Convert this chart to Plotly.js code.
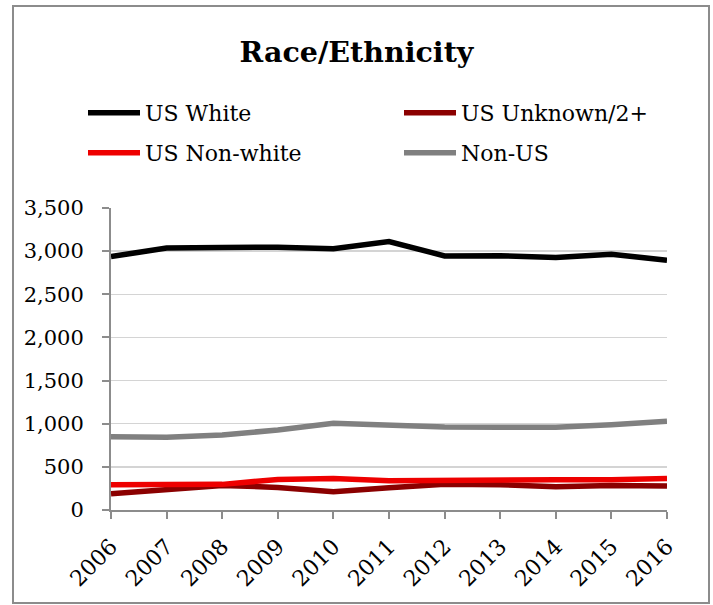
<!DOCTYPE html>
<html>
<head>
<meta charset="utf-8">
<script src="https://cdn.plot.ly/plotly-3.0.1.min.js"></script>
<style>html,body{margin:0;padding:0;background:#fff;}#chart{width:713px;height:605px;}</style>
</head>
<body>
<div id="chart"></div>
<script>
var years = [2006, 2007, 2008, 2009, 2010, 2011, 2012, 2013, 2014, 2015, 2016];
var usWhite = [2937, 3035, 3042, 3046, 3027, 3112, 2945, 2948, 2926, 2965, 2895];
var usUnknown = [188, 231, 285, 262, 211, 258, 297, 293, 270, 285, 277];
var usNonWhite = [292, 300, 297, 354, 366, 338, 346, 350, 352, 352, 366];
var nonUS = [850, 843, 870, 927, 1004, 977, 962, 960, 960, 988, 1030];
var seriesNames = ['US White', 'US Unknown/2+', 'US Non-white', 'Non-US'];
var yTicks = [0, 500, 1000, 1500, 2000, 2500, 3000, 3500];

var FONT = 'DejaVu Serif, Liberation Serif, serif';

function tr(name, y, color, legend) {
  return {x: years, y: y, name: name, type: 'scatter', mode: 'lines',
    line: {color: color, width: 5.5}, legend: legend, hoverinfo: 'skip'};
}
var data = [
  tr(seriesNames[3], nonUS, '#808080', 'legend4'),
  tr(seriesNames[1], usUnknown, '#8b0000', 'legend2'),
  tr(seriesNames[2], usNonWhite, '#ee0000', 'legend3'),
  tr(seriesNames[0], usWhite, '#000000', 'legend')
];

function leg(xpx, ypx) {
  return {orientation: 'h', xref: 'container', yref: 'container',
    xanchor: 'left', yanchor: 'middle', itemwidth: 52,
    x: xpx / 713, y: 1 - ypx / 605,
    font: {family: FONT, size: 22, color: '#000'}, bgcolor: 'rgba(0,0,0,0)',
    itemclick: false};
}

var layout = {
  width: 713, height: 605,
  margin: {l: 111, r: 46, t: 208, b: 95},
  paper_bgcolor: '#fff', plot_bgcolor: '#fff',
  title: {text: '<b>Race/Ethnicity</b>', font: {family: FONT, size: 28.5, color: '#000'},
    x: 0.5, xref: 'container', xanchor: 'center', y: 1 - 52/605, yref: 'container', yanchor: 'middle'},
  font: {family: FONT, color: '#000'},
  showlegend: true,
  legend: leg(83, 113),
  legend2: leg(399, 113),
  legend3: leg(83, 153),
  legend4: leg(399, 153),
  xaxis: {range: [2006, 2016], tickmode: 'array', tickvals: years, ticktext: years.map(String),
    tickangle: -45, ticks: 'outside', ticklen: 7, tickwidth: 2, tickcolor: '#8c8c8c',
    showline: true, linecolor: '#8c8c8c', linewidth: 2, showgrid: false, zeroline: false,
    tickfont: {family: FONT, size: 22, color: '#000'}, ticklabelstandoff: 6, fixedrange: true},
  yaxis: {range: [0, 3500], tickmode: 'array', tickvals: yTicks,
    ticktext: yTicks.map(function(v){ return v.toLocaleString('en-US'); }),
    ticks: 'outside', ticklen: 7, tickwidth: 2, tickcolor: '#8c8c8c',
    showline: true, linecolor: '#8c8c8c', linewidth: 2,
    showgrid: true, gridcolor: '#d4d4d4', gridwidth: 1.5, zeroline: false,
    tickfont: {family: FONT, size: 21, color: '#000'}, ticklabelstandoff: 14, fixedrange: true},
  shapes: [{type: 'rect', xref: 'paper', yref: 'paper',
    x0: (13 - 111) / 556, x1: (709 - 111) / 556,
    y0: (510 - 603) / 302, y1: (510 - 6) / 302,
    line: {color: '#8c8c8c', width: 2}, fillcolor: 'rgba(0,0,0,0)', layer: 'below'}]
};

Plotly.newPlot('chart', data, layout, {staticPlot: true, displayModeBar: false});
</script>
</body>
</html>
